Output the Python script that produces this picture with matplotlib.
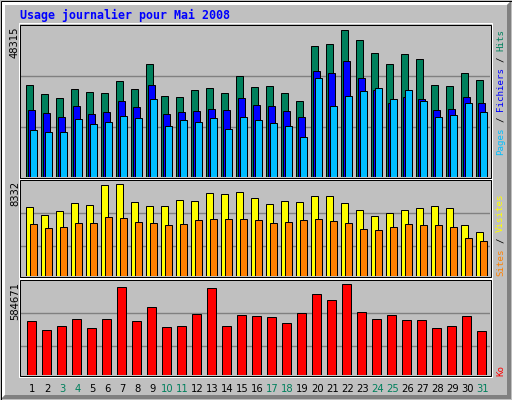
import matplotlib
matplotlib.use("Agg")
import matplotlib.pyplot as plt
from matplotlib.patches import Rectangle, Polygon
from matplotlib.transforms import blended_transform_factory

# ---------------- data ----------------
title = "Usage journalier pour Mai 2008"
days = list(range(1, 32))
weekend_days = [3, 4, 10, 11, 17, 18, 24, 25, 31]

hits = [30279, 27328, 26016, 28967, 27983, 27655, 31591, 28967, 37165, 26672,
        26344, 28639, 29295, 27655, 33230, 29623, 29951, 27655, 25032, 43068,
        43724, 48315, 45036, 40773, 37165, 40445, 38805, 30279, 29951, 34214, 31918]
files = [22081, 21097, 19785, 23392, 20769, 21425, 25032, 23064, 30279, 20769,
         21425, 21753, 22409, 22081, 26016, 23720, 23392, 21753, 19785, 34870,
         34214, 38149, 32574, 28639, 24376, 26344, 25688, 22081, 22409, 26344, 24376]
pages = [15522, 14866, 14866, 19129, 17490, 18145, 20113, 19457, 25688, 16834,
         18801, 18145, 19457, 15850, 19785, 18801, 17817, 16834, 13226, 32574,
         23392, 26672, 28311, 29295, 25688, 28639, 25032, 19785, 20441, 24376, 21425]
visits = [6249, 5524, 5887, 6611, 6430, 8241, 8332, 6702, 6339, 6339,
          6883, 6792, 7517, 7426, 7607, 7064, 6521, 6792, 6702, 7245,
          7245, 6611, 5977, 5434, 5706, 5977, 6158, 6339, 6158, 4619, 3985]
sites = [4709, 4347, 4438, 4800, 4800, 5343, 5253, 4890, 4800, 4619,
         4709, 5072, 5162, 5162, 5162, 5072, 4800, 4890, 5072, 5162,
         4981, 4800, 4257, 4166, 4438, 4709, 4619, 4619, 4438, 3441, 3170]
kbytes = [346955, 289129, 314830, 359806, 301980, 359806, 565409, 346955, 436907, 308405,
          314830, 391931, 558984, 314830, 385506, 379081, 372656, 334105, 398356, 520433,
          481883, 584671, 404781, 359806, 385506, 353381, 353381, 301980, 314830, 379081, 282704]

# ---------------- styling ----------------
BG = "#C0C0C0"
C_HITS = "#00805C"
C_FILES = "#0000FF"
C_PAGES = "#00BFFF"
C_VISITS = "#FFFF00"
C_SITES = "#FF8000"
C_KB = "#FF0000"
C_WEEKEND = "#00805C"
GRID = "#808080"

W, H = 512, 400
fig = plt.figure(figsize=(W / 100, H / 100), dpi=100, facecolor=BG)

def fx(x):
    return x / W

def fy(y):
    return 1 - y / H

def pxpoly(pts, **kw):
    fig.add_artist(Polygon([(fx(x), fy(y)) for x, y in pts], closed=True,
                           transform=fig.transFigure, **kw))

def pxrect(x0, y0, x1, y1, **kw):
    fig.add_artist(Rectangle((fx(x0), fy(y1)), fx(x1) - fx(x0), fy(y0) - fy(y1),
                             transform=fig.transFigure, **kw))

LW = 0.72  # 1 px

# outer bevel frame
pxpoly([(1, 1), (511, 1), (507, 5), (5, 5), (5, 395), (1, 399)], facecolor="white", edgecolor="none")
pxpoly([(511, 1), (511, 399), (1, 399), (5, 395), (507, 395), (507, 5)], facecolor="#808080", edgecolor="none")
pxrect(0.5, 0.5, 511.5, 399.5, facecolor="none", edgecolor="black", lw=LW)

# title
fig.text(fx(20), fy(15), title, color="#0000FF", family="DejaVu Sans Mono",
         fontweight="bold", fontsize=8.4, ha="left", va="center")

X_LEFT, X_RIGHT = 20, 490
DAY_PX = 15.0
FIRST_CENTER = 31 - X_LEFT  # px from axes left to day 1 group centre
xmin = 1 - FIRST_CENTER / DAY_PX
xmax = xmin + (X_RIGHT - X_LEFT) / DAY_PX

def make_panel(top, bottom, maxbar_px, grid_fracs):
    ax = fig.add_axes([fx(X_LEFT), fy(bottom), fx(X_RIGHT) - fx(X_LEFT), fy(top) - fy(bottom)])
    ax.set_facecolor("none")
    for s in ax.spines.values():
        s.set_visible(False)
    ax.set_xticks([])
    ax.set_yticks([])
    ax.set_xlim(xmin, xmax)
    # frame: white outer, black inner
    pxrect(X_LEFT - 1.5, top - 1.5, X_RIGHT + 1.5, bottom + 1.5, facecolor="none", edgecolor="white", lw=LW)
    pxrect(X_LEFT - 0.5, top - 0.5, X_RIGHT + 0.5, bottom + 0.5, facecolor="none", edgecolor="black", lw=LW)
    ratio = (bottom - top) / maxbar_px
    return ax, ratio, grid_fracs

def bars(ax, vals, off_px, width_px, color):
    ax.bar([d + off_px / DAY_PX for d in days], vals, width=width_px / DAY_PX,
           color=color, edgecolor="black", linewidth=LW, zorder=3)

# ---- panel 1: hits / files / pages
ax1, r1, g1 = make_panel(25, 177, 147.3, [0.327, 0.662])
ymax1 = max(hits) * r1
ax1.set_ylim(0, ymax1)
for g in g1:
    ax1.axhline(ymax1 * g, color=GRID, lw=1.0, zorder=1)
bars(ax1, hits, -1.9, 7, C_HITS)
bars(ax1, files, 0.1, 7, C_FILES)
bars(ax1, pages, 2.0, 7, C_PAGES)

# ---- panel 2: visits / sites
ax2, r2, g2 = make_panel(180, 276.3, 92, [0.311, 0.654])
ymax2 = max(visits) * r2
ax2.set_ylim(0, ymax2)
for g in g2:
    ax2.axhline(ymax2 * g, color=GRID, lw=1.0, zorder=1)
bars(ax2, visits, -1.6, 7.4, C_VISITS)
bars(ax2, sites, 2.0, 7, C_SITES)

# ---- panel 3: KB
ax3, r3, g3 = make_panel(280.3, 375.3, 91, [0.305, 0.653])
ymax3 = max(kbytes) * r3
ax3.set_ylim(0, ymax3)
for g in g3:
    ax3.axhline(ymax3 * g, color=GRID, lw=1.0, zorder=1)
bars(ax3, kbytes, 0.5, 9.4, C_KB)

# max labels on the left
for val, top in [(max(hits), 26), (max(visits), 181), (max(kbytes), 282)]:
    fig.text(fx(15), fy(top), str(val), rotation=90, ha="center", va="top",
             fontsize=7.2, color="black", family="DejaVu Sans")

# right side labels (multicolour, monospace segments placed one after another)
def multi_label(segments, x, y_bottom, size=6.6):
    adv = 0.602 * size * 100 / 72  # px per monospace character
    pos = 0
    for s, c in segments:
        stripped = s.strip()
        lead = len(s) - len(s.lstrip())
        y = y_bottom - (pos + lead) * adv
        fig.text(fx(x), fy(y), stripped, rotation=90, rotation_mode="anchor",
                 ha="left", va="center", family="DejaVu Sans Mono", fontsize=size, color=c)
        pos += len(s)

multi_label([("Pages", C_PAGES), (" / ", "black"), ("Fichiers", C_FILES),
             (" / ", "black"), ("Hits", C_HITS)], 500.5, 155.5)
multi_label([("Sites", C_SITES), (" / ", "black"), ("Visites", C_VISITS)], 500.5, 276.5)
multi_label([("Ko", C_KB)], 500.5, 376.5)

# day labels
tr = blended_transform_factory(ax3.transData, fig.transFigure)
for d in days:
    ax3.text(d + 1.5 / DAY_PX, fy(389), str(d), transform=tr, ha="center", va="center",
             fontsize=7.2, family="DejaVu Sans",
             color=C_WEEKEND if d in weekend_days else "black", clip_on=False)

fig.savefig("out.png", dpi=100, facecolor=BG)
